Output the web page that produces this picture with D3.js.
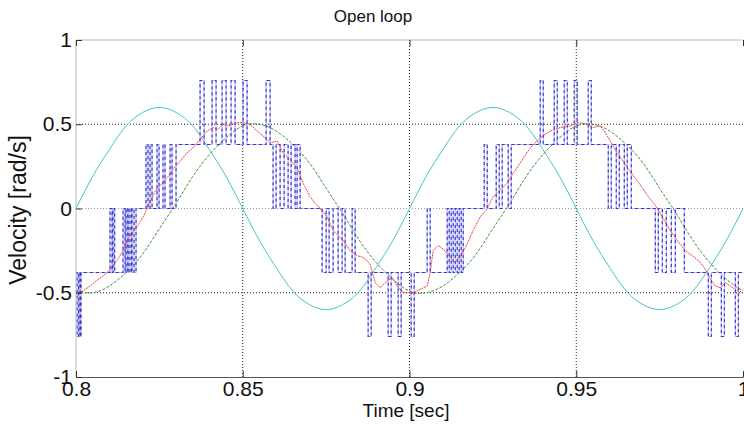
<!DOCTYPE html>
<html>
<head>
<meta charset="utf-8">
<script src="https://cdn.jsdelivr.net/npm/d3@7"></script>
<style>
  body { margin: 0; background: #fff; }
  svg { display: block; }
  text { font-family: Arial, "Liberation Sans", sans-serif; fill: #111; }
</style>
</head>
<body>
<div id="vis"></div>
<script>
// time grid for the two smooth sines (every 5 ms)
var sineTime = [0.800,0.805,0.810,0.815,0.820,0.825,0.830,0.835,0.840,0.845,0.850,0.855,0.860,0.865,0.870,0.875,0.880,0.885,0.890,0.895,0.900,
  0.905,0.910,0.915,0.920,0.925,0.930,0.935,0.940,0.945,0.950,0.955,0.960,0.965,0.970,0.975,0.980,0.985,0.990,0.995,1.000];
var cyanVel = [0,0.19,0.35,0.49,0.57,0.60,0.57,0.49,0.35,0.19,0,-0.19,-0.35,-0.49,-0.57,-0.60,-0.57,-0.49,-0.35,-0.19,0,
  0.19,0.35,0.49,0.57,0.60,0.57,0.49,0.35,0.19,0,-0.19,-0.35,-0.49,-0.57,-0.60,-0.57,-0.49,-0.35,-0.19,0];
var greenVel = [-0.49,-0.50,-0.46,-0.38,-0.27,-0.12,0.03,0.19,0.32,0.42,0.49,0.50,0.46,0.38,0.27,0.12,-0.03,-0.19,-0.32,-0.42,-0.49,
  -0.50,-0.46,-0.38,-0.27,-0.12,0.03,0.19,0.32,0.42,0.49,0.50,0.46,0.38,0.27,0.12,-0.03,-0.19,-0.32,-0.42,-0.49];

// filtered estimate (red)
var redTime = [0.8000,0.8021,0.8042,0.8060,0.8081,0.8099,0.8114,0.8129,0.8144,0.8159,0.8174,0.8189,0.8204,0.8219,0.8240,0.8258,0.8276,0.8294,
  0.8312,0.8333,0.8351,0.8372,0.8393,0.8411,0.8426,0.8441,0.8456,0.8471,0.8486,0.8501,0.8522,0.8543,0.8567,0.8582,0.8603,0.8621,0.8642,0.8663,
  0.8681,0.8702,0.8717,0.8732,0.8753,0.8771,0.8786,0.8801,0.8822,0.8843,0.8861,0.8882,0.8897,0.8912,0.8933,0.8948,0.8963,0.8981,0.8996,0.9011,
  0.9032,0.9053,0.9062,0.9071,0.9086,0.9101,0.9122,0.9137,0.9152,0.9173,0.9191,0.9212,0.9233,0.9251,0.9272,0.9293,0.9311,0.9332,0.9362,0.9392,
  0.9422,0.9452,0.9482,0.9506,0.9533,0.9551,0.9572,0.9587,0.9602,0.9623,0.9641,0.9662,0.9692,0.9716,0.9737,0.9758,0.9782,0.9803,0.9827,0.9848,
  0.9872,0.9887,0.9902,0.9917,0.9932,0.9947,0.9962,0.9977,1.0000];
var redVel = [-0.50,-0.49,-0.46,-0.43,-0.40,-0.37,-0.33,-0.29,-0.24,-0.17,-0.13,-0.09,-0.04,0.03,0.11,0.15,0.19,0.24,
  0.28,0.33,0.36,0.41,0.46,0.48,0.47,0.50,0.49,0.50,0.51,0.51,0.50,0.46,0.42,0.39,0.40,0.33,0.29,0.24,
  0.15,0.07,0.03,0.00,-0.05,-0.13,-0.16,-0.19,-0.25,-0.28,-0.29,-0.33,-0.44,-0.47,-0.43,-0.41,-0.46,-0.50,-0.50,-0.50,
  -0.48,-0.46,-0.38,-0.25,-0.22,-0.24,-0.29,-0.32,-0.29,-0.21,-0.13,-0.05,0.00,0.07,0.11,0.15,0.21,0.27,0.36,0.42,
  0.46,0.48,0.49,0.51,0.50,0.48,0.49,0.45,0.40,0.33,0.28,0.22,0.14,0.07,0.02,-0.05,-0.13,-0.19,-0.25,-0.28,
  -0.32,-0.36,-0.42,-0.46,-0.47,-0.44,-0.46,-0.48,-0.50];

// quantized measurement (blue), value holds until next time
var blueTime = [0.8000,0.8003,0.8008,0.8012,0.8015,0.8102,0.8108,0.8111,0.8116,0.8141,0.8147,0.8150,0.8155,0.8159,0.8165,0.8168,0.8174,0.8180,
  0.8210,0.8216,0.8222,0.8228,0.8243,0.8249,0.8261,0.8267,0.8282,0.8288,0.8300,0.8372,0.8384,0.8408,0.8420,0.8438,0.8450,0.8465,0.8477,0.8501,
  0.8513,0.8570,0.8582,0.8591,0.8600,0.8612,0.8624,0.8636,0.8645,0.8657,0.8663,0.8672,0.8738,0.8750,0.8759,0.8771,0.8786,0.8798,0.8807,0.8828,
  0.8837,0.8876,0.8885,0.8936,0.8945,0.8966,0.8975,0.9005,0.9014,0.9053,0.9062,0.9113,0.9119,0.9125,0.9131,0.9137,0.9143,0.9149,0.9155,0.9161,
  0.9224,0.9233,0.9260,0.9269,0.9278,0.9296,0.9305,0.9392,0.9401,0.9434,0.9443,0.9464,0.9473,0.9494,0.9503,0.9536,0.9545,0.9596,0.9605,0.9620,
  0.9629,0.9644,0.9653,0.9665,0.9737,0.9746,0.9758,0.9770,0.9785,0.9797,0.9824,0.9896,0.9905,0.9935,0.9944,0.9977,0.9986,1.0000];
var blueVel = [-0.38,-0.76,-0.38,-0.76,-0.38,0,-0.38,0,-0.38,0,-0.38,0,-0.38,0,-0.38,0,-0.38,0,
  0.38,0,0.38,0,0.38,0,0.38,0,0.38,0,0.38,0.76,0.38,0.76,0.38,0.76,0.38,0.76,0.38,0.76,
  0.38,0.76,0.38,0,0.38,0,0.38,0,0.38,0,0.38,0,-0.38,0,-0.38,0,-0.38,0,-0.38,0,
  -0.38,-0.76,-0.38,-0.76,-0.38,-0.76,-0.38,-0.76,-0.38,0,-0.38,0,-0.38,0,-0.38,0,-0.38,0,-0.38,0,
  0.38,0,0.38,0,0.38,0,0.38,0.76,0.38,0.76,0.38,0.76,0.38,0.76,0.38,0.76,0.38,0,0.38,0,
  0.38,0,0.38,0,-0.38,0,-0.38,0,-0.38,0,-0.38,-0.76,-0.38,-0.76,-0.38,-0.76,-0.38,-0.38];

var xTicks = [0.8, 0.85, 0.9, 0.95, 1];
var yTicks = [-1, -0.5, 0, 0.5, 1];

const width = 744, height = 428;
const margin = {top: 40, right: 1, bottom: 51, left: 76};

var svg = d3.select("div#vis").append("svg").attr("width", width).attr("height", height);

const x = d3.scaleLinear().domain([0.8, 1]).range([margin.left, width - margin.right]);
const y = d3.scaleLinear().domain([-1, 1]).range([height - margin.bottom, margin.top]);

// dotted grid
svg.selectAll("line.gx").data(xTicks.slice(1, -1)).enter().append("line")
  .attr("x1", d => x(d)).attr("x2", d => x(d))
  .attr("y1", y(-1)).attr("y2", y(1))
  .attr("stroke", "#222").attr("stroke-width", 1).attr("stroke-dasharray", "1,2");
svg.selectAll("line.gy").data(yTicks.slice(1, -1)).enter().append("line")
  .attr("x1", x(0.8)).attr("x2", x(1))
  .attr("y1", d => y(d)).attr("y2", d => y(d))
  .attr("stroke", d => d == 0 ? "#999" : "#222").attr("stroke-width", 1).attr("stroke-dasharray", "1,2");

const pts = (ts, vs) => ts.map((t, i) => [t, vs[i]]);

const line = d3.line().x(d => x(d[0])).y(d => y(d[1]));

svg.append("path").datum(pts(sineTime, cyanVel))
  .attr("d", line.curve(d3.curveNatural))
  .attr("fill", "none").attr("stroke", "#46c6c6").attr("stroke-width", 1);

svg.append("path").datum(pts(sineTime, greenVel))
  .attr("d", line.curve(d3.curveNatural))
  .attr("fill", "none").attr("stroke", "#3a953a").attr("stroke-width", 1).attr("stroke-dasharray", "3,1.5");

const blueData = pts(blueTime, blueVel);
const stepLine = d3.line().x(d => x(d[0])).y(d => y(d[1])).curve(d3.curveStepAfter);

svg.append("path").datum(blueData)
  .attr("d", stepLine)
  .attr("fill", "none").attr("stroke", "#b4b4f0").attr("stroke-width", 1.1);
svg.append("path").datum(blueData)
  .attr("d", stepLine)
  .attr("fill", "none").attr("stroke", "#3030c8").attr("stroke-width", 1.1).attr("stroke-dasharray", "3,3");

svg.append("path").datum(pts(redTime, redVel))
  .attr("d", d3.line().x(d => x(d[0])).y(d => y(d[1])).curve(d3.curveLinear))
  .attr("fill", "none").attr("stroke", "#e82a2a").attr("stroke-width", 0.9).attr("stroke-dasharray", "2,0.8");

// box
svg.append("line").attr("x1", x(0.8)).attr("x2", x(1)).attr("y1", y(1)).attr("y2", y(1)).attr("stroke", "#bbb");
svg.append("line").attr("x1", x(0.8)).attr("x2", x(0.8)).attr("y1", y(1)).attr("y2", y(-1)).attr("stroke", "#bbb");

// axes, ticks inside like matlab
const xAxis = svg.append("g").attr("transform", `translate(0,${y(-1)})`)
  .call(d3.axisBottom(x).tickValues(xTicks).tickFormat(d3.format("")).tickSizeInner(-6).tickSizeOuter(0).tickPadding(6));
xAxis.select(".domain").attr("stroke", "#555");
xAxis.selectAll(".tick line").attr("stroke", "#333");
xAxis.selectAll("text").attr("font-size", 21).attr("fill", "#111").attr("dy", "0.62em");

const xTop = svg.append("g").attr("transform", `translate(0,${y(1)})`)
  .call(d3.axisTop(x).tickValues(xTicks).tickFormat("").tickSizeInner(-6).tickSizeOuter(0));
xTop.select(".domain").remove();
xTop.selectAll(".tick line").attr("stroke", "#333");

const yAxis = svg.append("g").attr("transform", `translate(${x(0.8)},0)`)
  .call(d3.axisLeft(y).tickValues(yTicks).tickFormat(d3.format("")).tickSizeInner(-6).tickSizeOuter(0).tickPadding(4));
yAxis.select(".domain").remove();
yAxis.selectAll(".tick line").attr("stroke", "#333");
yAxis.selectAll("text").attr("font-size", 21).attr("fill", "#111").text(d => d3.format("")(d).replace("\u2212", "-"));

xAxis.selectAll("text").text(d => d3.format("")(d));

svg.append("text").attr("x", 373).attr("y", 22).attr("text-anchor", "middle").attr("font-size", 17).text("Open loop");
svg.append("text").attr("x", 406).attr("y", 417).attr("text-anchor", "middle").attr("font-size", 19).text("Time [sec]");
svg.append("text").attr("transform", "translate(26,210) rotate(-90)").attr("text-anchor", "middle").attr("font-size", 23).text("Velocity [rad/s]");
</script>
</body>
</html>
